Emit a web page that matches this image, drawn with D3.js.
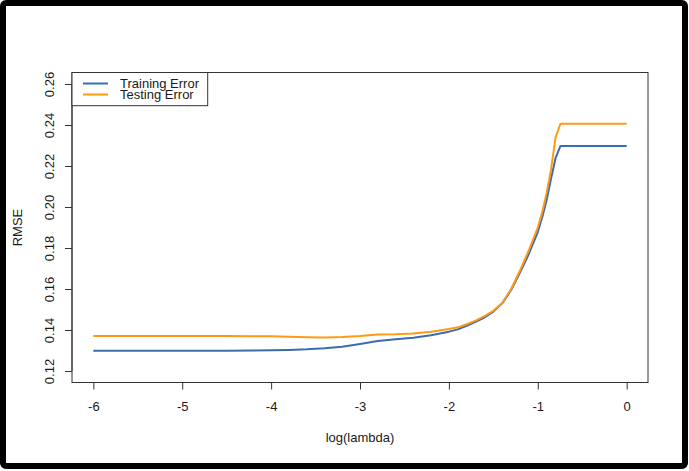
<!DOCTYPE html>
<html>
<head>
<meta charset="utf-8">
<script src="https://cdn.jsdelivr.net/npm/d3@7/dist/d3.min.js"></script>
<style>
  html, body { margin: 0; padding: 0; background: #fff; }
  svg { display: block; font-family: "Liberation Sans", Arial, sans-serif; }
</style>
</head>
<body>
<svg id="chart" width="689" height="471"></svg>
<script>
// ---- data ----
const logLambda = [-6, -5.5, -5, -4.5, -4.2, -4.0, -3.8, -3.6, -3.4, -3.2, -3.0, -2.8, -2.6, -2.4, -2.2, -2.0, -1.9, -1.8, -1.7, -1.6, -1.5, -1.4, -1.3, -1.2, -1.1, -1.0, -0.95, -0.9, -0.85, -0.8, -0.745, -0.5, 0];
const trainingError = [0.1299, 0.1299, 0.1299, 0.1299, 0.1300, 0.1301, 0.1303, 0.1306, 0.1311, 0.1318, 0.1332, 0.1346, 0.1355, 0.1362, 0.1374, 0.1392, 0.1403, 0.1420, 0.1440, 0.1461, 0.1490, 0.1530, 0.1595, 0.1680, 0.1772, 0.1878, 0.1950, 0.2034, 0.2140, 0.2238, 0.2298, 0.2298, 0.2298];
const testingError = [0.1371, 0.1371, 0.1371, 0.1371, 0.1370, 0.1369, 0.1367, 0.1365, 0.1364, 0.1366, 0.1371, 0.1378, 0.1379, 0.1383, 0.1392, 0.1405, 0.1413, 0.1428, 0.1446, 0.1468, 0.1494, 0.1532, 0.1600, 0.1690, 0.1790, 0.1900, 0.1975, 0.2070, 0.2185, 0.2340, 0.2406, 0.2406, 0.2406];
const xTicks = [-6, -5, -4, -3, -2, -1, 0];
const yTicks = [0.12, 0.14, 0.16, 0.18, 0.20, 0.22, 0.24, 0.26];
const seriesNames = ["Training Error", "Testing Error"];
const seriesColors = ["#3a6db0", "#ff9a14"];

// ---- layout ----
const svg = d3.select("#chart");
const pLeft = 72, pRight = 648, pTop = 72.5, pBottom = 382.5;
const xMin = -6, xMax = 0, yMin = 0.12, yMax = 0.26;
const xPad = (xMax - xMin) * 0.04, yPad = (yMax - yMin) * 0.04;
const x = d3.scaleLinear().domain([xMin - xPad, xMax + xPad]).range([pLeft, pRight]);
const y = d3.scaleLinear().domain([yMin - yPad, yMax + yPad]).range([pBottom, pTop]);
const axisColor = "#333";
const textColor = "#1a1a1a";
const fontFam = "Liberation Sans, Arial, sans-serif";

// outer frame
svg.append("rect").attr("x", 3).attr("y", 3).attr("width", 682).attr("height", 463)
  .attr("rx", 3).attr("fill", "none").attr("stroke", "#000").attr("stroke-width", 6);

// lines
const series = [trainingError, testingError];
const line = d3.line().x((d, i) => x(logLambda[i])).y(d => y(d));
series.forEach((s, k) => {
  svg.append("path").datum(s).attr("d", line)
    .attr("fill", "none").attr("stroke", seriesColors[k]).attr("stroke-width", 2)
    .attr("stroke-linejoin", "round");
});

// plot box
svg.append("rect").attr("x", pLeft).attr("y", pTop).attr("width", pRight - pLeft).attr("height", pBottom - pTop)
  .attr("fill", "none").attr("stroke", axisColor).attr("stroke-width", 1);

// x axis
const xAxis = d3.axisBottom(x).tickValues(xTicks).tickSize(7).tickFormat(d => String(d));
const gx = svg.append("g").attr("transform", `translate(0,${pBottom})`).call(xAxis);
gx.select(".domain").attr("d", `M${x(xMin)},0H${x(xMax)}`).attr("stroke", axisColor);
gx.selectAll(".tick line").attr("stroke", axisColor);
gx.selectAll(".tick text").attr("y", 28.5).attr("dy", null)
  .attr("font-size", 13).attr("fill", textColor).attr("font-family", fontFam);

// y axis
const yAxis = d3.axisLeft(y).tickValues(yTicks).tickSize(7).tickFormat(d3.format(".2f"));
const gy = svg.append("g").attr("transform", `translate(${pLeft},0)`).call(yAxis);
gy.select(".domain").attr("d", `M0,${y(yMin)}V${y(yMax)}`).attr("stroke", axisColor);
gy.selectAll(".tick line").attr("stroke", axisColor);
gy.selectAll(".tick text")
  .attr("x", null).attr("dy", null)
  .attr("text-anchor", "middle")
  .attr("transform", "translate(-18,0) rotate(-90)")
  .attr("font-size", 13).attr("fill", textColor).attr("font-family", fontFam);

// axis titles
svg.append("text").attr("x", (x(xMin) + x(xMax)) / 2).attr("y", 442)
  .attr("text-anchor", "middle").attr("font-size", 13).attr("fill", textColor).text("log(lambda)");
svg.append("text").attr("transform", `translate(22,${(pTop + pBottom) / 2}) rotate(-90)`)
  .attr("text-anchor", "middle").attr("font-size", 13).attr("fill", textColor).text("RMSE");

// legend
const lg = svg.append("g");
lg.append("rect").attr("x", pLeft).attr("y", pTop).attr("width", 135.7).attr("height", 33.2)
  .attr("fill", "#fff").attr("stroke", axisColor).attr("stroke-width", 1);
seriesNames.forEach((name, k) => {
  const cy = 83.5 + k * 11;
  lg.append("line").attr("x1", 83).attr("x2", 108).attr("y1", cy).attr("y2", cy)
    .attr("stroke", seriesColors[k]).attr("stroke-width", 2);
  lg.append("text").attr("x", 120).attr("y", cy + 4.8).attr("font-size", 13)
    .attr("fill", textColor).text(name);
});
</script>
</body>
</html>
